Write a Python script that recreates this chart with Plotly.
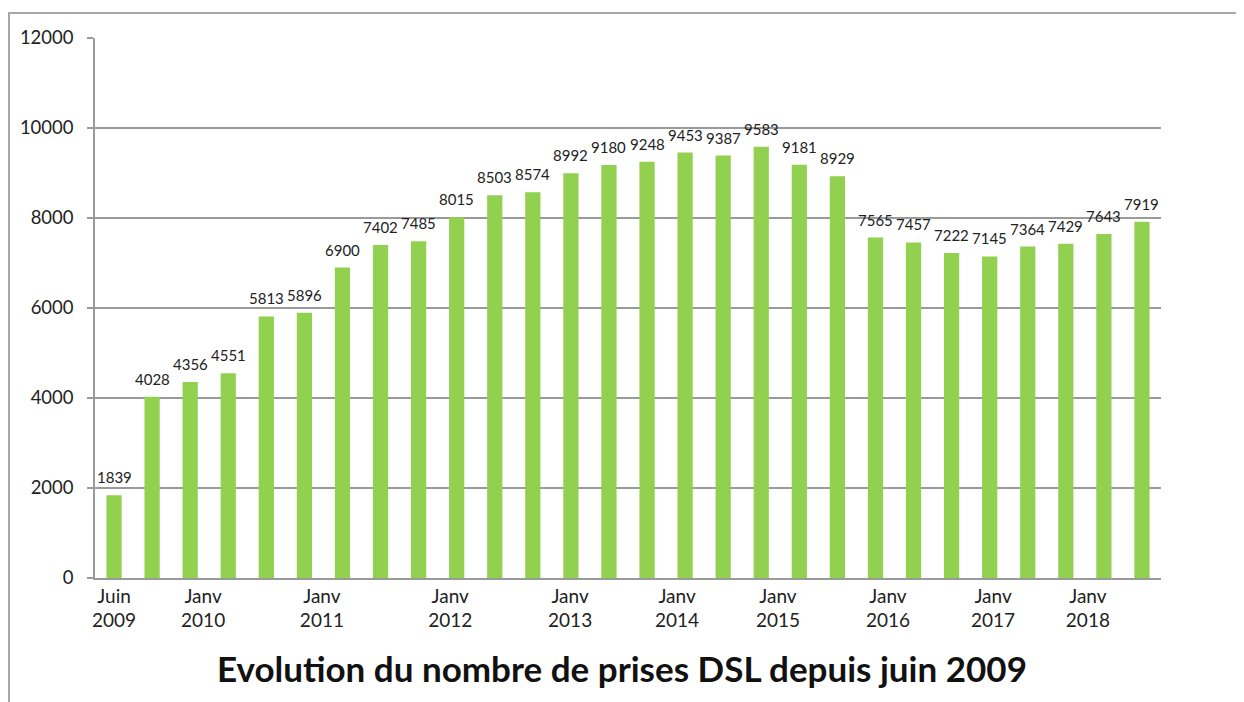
import plotly.graph_objects as go

values = [1839, 4028, 4356, 4551, 5813, 5896, 6900, 7402, 7485, 8015,
          8503, 8574, 8992, 9180, 9248, 9453, 9387, 9583, 9181, 8929,
          7565, 7457, 7222, 7145, 7364, 7429, 7643, 7919]
periods = list(range(len(values)))

tick_positions = [0, 2.34, 5.46, 8.83, 11.98, 14.79, 17.44, 20.33, 23.09, 25.58]
tick_labels = ["Juin<br>2009", "Janv<br>2010", "Janv<br>2011", "Janv<br>2012",
               "Janv<br>2013", "Janv<br>2014", "Janv<br>2015", "Janv<br>2016",
               "Janv<br>2017", "Janv<br>2018"]

title_text = "Evolution du nombre de prises DSL depuis juin 2009"

FONT = "Lato, 'Open Sans', sans-serif"

fig = go.Figure()
fig.add_trace(go.Bar(
    x=periods,
    y=values,
    marker=dict(color="#92D050", line=dict(width=0)),
    width=0.4,
    hoverinfo="x+y",
))

label_annotations = [
    dict(x=p, y=v, text=str(v), xref="x", yref="y",
         xanchor="center", yanchor="bottom", yshift=7,
         showarrow=False,
         font=dict(family=FONT, size=15, color="#222222"))
    for p, v in zip(periods, values)
]

fig.update_layout(
    width=1244,
    height=702,
    margin=dict(l=87, r=91, t=30, b=132),
    paper_bgcolor="white",
    plot_bgcolor="white",
    showlegend=False,
    font=dict(family=FONT, color="#222222"),
    shapes=[dict(
        type="rect", xref="paper", yref="paper",
        x0=-0.0807, x1=1.2, y0=-0.3, y1=1.0463,
        line=dict(color="#8a8a8a", width=1.5),
        fillcolor="rgba(0,0,0,0)", layer="below",
    )],
    annotations=label_annotations + [dict(
        text="<b>" + title_text + "</b>",
        xref="paper", yref="paper",
        x=(622 - 95) / 1066, y=(578 - 668) / 540,
        xanchor="center", yanchor="middle",
        showarrow=False,
        font=dict(family=FONT, size=35, color="#111111"),
    )],
)

fig.update_xaxes(
    range=[-0.5, 27.5],
    tickmode="array",
    tickvals=tick_positions,
    ticktext=tick_labels,
    tickfont=dict(family=FONT, size=19, color="#222222"),
    showgrid=False,
    zeroline=False,
    showline=True,
    linecolor="#9a9a9a",
    linewidth=1.5,
    ticks="",
)

fig.update_yaxes(
    range=[0, 12000],
    dtick=2000,
    tickmode="linear",
    tick0=0,
    showgrid=True,
    gridcolor="#9a9a9a",
    gridwidth=1.8,
    zeroline=False,
    showline=True,
    linecolor="#9a9a9a",
    linewidth=1.5,
    ticks="outside",
    ticklen=6,
    tickcolor="#9a9a9a",
    tickwidth=1.5,
    ticklabelstandoff=10,
    tickfont=dict(family=FONT, size=18.5, color="#222222"),
    tickformat="d",
)

fig.write_html("out.html")
